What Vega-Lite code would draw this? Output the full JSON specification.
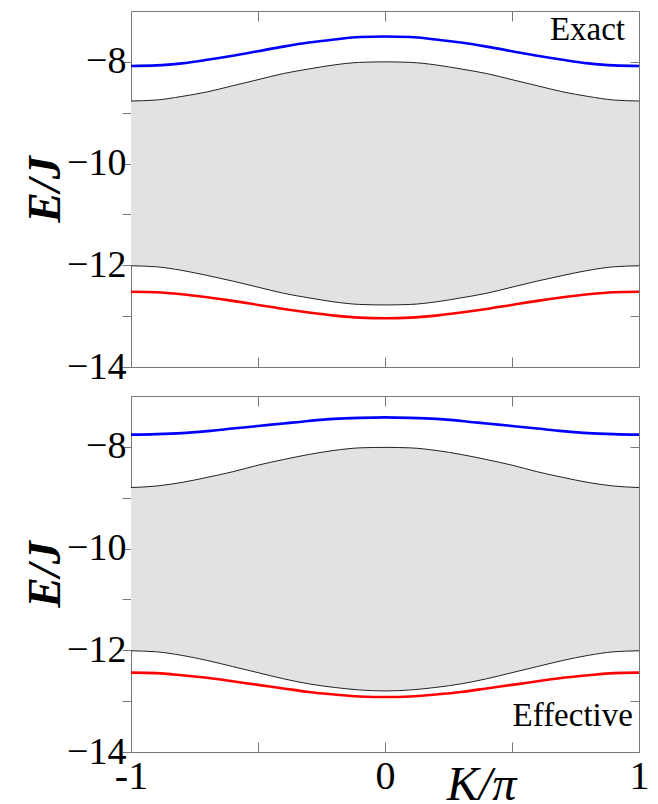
{
  "$schema": "https://vega.github.io/schema/vega-lite/v6.json",
  "autosize": "none",
  "padding": {"left": 131, "top": 11, "right": 527, "bottom": 793},
  "background": "white",
  "config": {
    "view": {"stroke": "#777", "strokeWidth": 1},
    "font": "Liberation Serif, Times New Roman, serif",
    "axis": {"grid": false, "tickColor": "#777", "domain": false, "labelFont": "Liberation Serif, Times New Roman, serif", "titleFont": "Liberation Serif, Times New Roman, serif", "labelColor": "black", "titleColor": "black"}
  },
  "datasets": {
    "exact": [
      {"K": -1.0, "up": -8.77, "lo": -12.01, "blue": -8.08, "red": -12.52},
      {"K": -0.9, "up": -8.75, "lo": -12.03, "blue": -8.07, "red": -12.53},
      {"K": -0.8, "up": -8.68, "lo": -12.10, "blue": -8.03, "red": -12.57},
      {"K": -0.7, "up": -8.59, "lo": -12.20, "blue": -7.96, "red": -12.63},
      {"K": -0.6, "up": -8.47, "lo": -12.31, "blue": -7.88, "red": -12.70},
      {"K": -0.5, "up": -8.35, "lo": -12.43, "blue": -7.79, "red": -12.78},
      {"K": -0.4, "up": -8.23, "lo": -12.55, "blue": -7.70, "red": -12.86},
      {"K": -0.3, "up": -8.14, "lo": -12.64, "blue": -7.62, "red": -12.93},
      {"K": -0.2, "up": -8.06, "lo": -12.72, "blue": -7.56, "red": -12.99},
      {"K": -0.1, "up": -8.01, "lo": -12.77, "blue": -7.51, "red": -13.03},
      {"K": 0.0, "up": -8.00, "lo": -12.78, "blue": -7.50, "red": -13.04},
      {"K": 0.1, "up": -8.01, "lo": -12.77, "blue": -7.51, "red": -13.03},
      {"K": 0.2, "up": -8.06, "lo": -12.72, "blue": -7.56, "red": -12.99},
      {"K": 0.3, "up": -8.14, "lo": -12.64, "blue": -7.62, "red": -12.93},
      {"K": 0.4, "up": -8.23, "lo": -12.55, "blue": -7.70, "red": -12.86},
      {"K": 0.5, "up": -8.35, "lo": -12.43, "blue": -7.79, "red": -12.78},
      {"K": 0.6, "up": -8.47, "lo": -12.31, "blue": -7.88, "red": -12.70},
      {"K": 0.7, "up": -8.59, "lo": -12.20, "blue": -7.96, "red": -12.63},
      {"K": 0.8, "up": -8.68, "lo": -12.10, "blue": -8.03, "red": -12.57},
      {"K": 0.9, "up": -8.75, "lo": -12.03, "blue": -8.07, "red": -12.53},
      {"K": 1.0, "up": -8.77, "lo": -12.01, "blue": -8.08, "red": -12.52}
    ],
    "effective": [
      {"K": -1.0, "up": -8.80, "lo": -12.01, "blue": -7.76, "red": -12.44},
      {"K": -0.9, "up": -8.77, "lo": -12.03, "blue": -7.75, "red": -12.45},
      {"K": -0.8, "up": -8.70, "lo": -12.10, "blue": -7.73, "red": -12.49},
      {"K": -0.7, "up": -8.60, "lo": -12.20, "blue": -7.69, "red": -12.54},
      {"K": -0.6, "up": -8.49, "lo": -12.32, "blue": -7.64, "red": -12.61},
      {"K": -0.5, "up": -8.36, "lo": -12.44, "blue": -7.59, "red": -12.68},
      {"K": -0.4, "up": -8.25, "lo": -12.56, "blue": -7.54, "red": -12.75},
      {"K": -0.3, "up": -8.15, "lo": -12.66, "blue": -7.49, "red": -12.82},
      {"K": -0.2, "up": -8.07, "lo": -12.73, "blue": -7.45, "red": -12.87},
      {"K": -0.1, "up": -8.02, "lo": -12.78, "blue": -7.43, "red": -12.91},
      {"K": 0.0, "up": -8.01, "lo": -12.80, "blue": -7.42, "red": -12.92},
      {"K": 0.1, "up": -8.02, "lo": -12.78, "blue": -7.43, "red": -12.91},
      {"K": 0.2, "up": -8.07, "lo": -12.73, "blue": -7.45, "red": -12.87},
      {"K": 0.3, "up": -8.15, "lo": -12.66, "blue": -7.49, "red": -12.82},
      {"K": 0.4, "up": -8.25, "lo": -12.56, "blue": -7.54, "red": -12.75},
      {"K": 0.5, "up": -8.36, "lo": -12.44, "blue": -7.59, "red": -12.68},
      {"K": 0.6, "up": -8.49, "lo": -12.32, "blue": -7.64, "red": -12.61},
      {"K": 0.7, "up": -8.60, "lo": -12.20, "blue": -7.69, "red": -12.54},
      {"K": 0.8, "up": -8.70, "lo": -12.10, "blue": -7.73, "red": -12.49},
      {"K": 0.9, "up": -8.77, "lo": -12.03, "blue": -7.75, "red": -12.45},
      {"K": 1.0, "up": -8.80, "lo": -12.01, "blue": -7.76, "red": -12.44}
    ]
  },
  "spacing": 8,
  "vconcat": [
    {
      "width": 508,
      "height": 356,
      "data": {"name": "exact"},
      "resolve": {"axis": {"x": "independent", "y": "independent"}},
      "layer": [
        {
          "mark": {"type": "area", "color": "#e2e2e2", "interpolate": "monotone"},
          "encoding": {
            "x": {"field": "K", "type": "quantitative", "scale": {"domain": [-1, 1], "nice": false},
                  "axis": {"orient": "bottom", "offset": -10, "tickSize": 10, "values": [-1, -0.5, 0, 0.5, 1], "labels": false, "title": null}},
            "y": {"field": "up", "type": "quantitative", "scale": {"domain": [-14, -7], "nice": false, "zero": false},
                  "axis": {"orient": "left", "tickSize": 9, "values": [-14, -13, -12, -11, -10, -9, -8],
                           "labelExpr": "datum.value % 2 === 0 ? '\u2212' + abs(datum.value) : ''",
                           "labelFontSize": 38, "labelPadding": -4, "labelBaseline": "middle",
                           "title": "E/J", "titleFontSize": 46, "titleFontStyle": "italic", "titleFontWeight": "bold",
                           "titleX": -72, "titleY": 178, "titleAlign": "center", "titleBaseline": "alphabetic", "titleAngle": -90}},
            "y2": {"field": "lo"}
          }
        },
        {
          "mark": {"type": "line", "color": "#222", "strokeWidth": 1, "interpolate": "monotone"},
          "encoding": {
            "x": {"field": "K", "type": "quantitative",
                  "axis": {"orient": "top", "offset": -10, "tickSize": 10, "values": [-0.5, 0, 0.5], "labels": false, "title": null}},
            "y": {"field": "up", "type": "quantitative",
                  "axis": {"orient": "right", "offset": -9, "tickSize": 9, "values": [-14, -13, -12, -11, -10, -9, -8], "labels": false, "title": null}}
          }
        },
        {
          "mark": {"type": "line", "color": "#222", "strokeWidth": 1, "interpolate": "monotone"},
          "encoding": {
            "x": {"field": "K", "type": "quantitative", "axis": null},
            "y": {"field": "lo", "type": "quantitative", "axis": null}
          }
        },
        {
          "mark": {"type": "line", "color": "#0000ff", "strokeWidth": 2.6, "interpolate": "monotone"},
          "encoding": {
            "x": {"field": "K", "type": "quantitative", "axis": null},
            "y": {"field": "blue", "type": "quantitative", "axis": null}
          }
        },
        {
          "mark": {"type": "line", "color": "#ff0000", "strokeWidth": 2.6, "interpolate": "monotone"},
          "encoding": {
            "x": {"field": "K", "type": "quantitative", "axis": null},
            "y": {"field": "red", "type": "quantitative", "axis": null}
          }
        },
        {
          "data": {"values": [{"label": "Exact", "K": 0.945, "E": -7.57}]},
          "mark": {"type": "text", "align": "right", "baseline": "alphabetic", "fontSize": 33, "color": "black"},
          "encoding": {
            "x": {"field": "K", "type": "quantitative", "axis": null},
            "y": {"field": "E", "type": "quantitative", "axis": null},
            "text": {"field": "label"}
          }
        }
      ]
    },
    {
      "width": 508,
      "height": 356,
      "data": {"name": "effective"},
      "resolve": {"axis": {"x": "independent", "y": "independent"}},
      "layer": [
        {
          "mark": {"type": "area", "color": "#e2e2e2", "interpolate": "monotone"},
          "encoding": {
            "x": {"field": "K", "type": "quantitative", "scale": {"domain": [-1, 1], "nice": false},
                  "axis": {"orient": "bottom", "offset": -10, "tickSize": 10, "values": [-1, -0.5, 0, 0.5, 1],
                           "labelExpr": "datum.value === -1 ? '-1' : datum.value === 1 ? '1' : datum.value === 0 ? '0' : ''",
                           "labelFontSize": 40, "labelPadding": 4, "labelBaseline": "top", "labelFlush": false,
                           "title": "K/\u03c0", "titleFontSize": 48, "titleFontStyle": "italic", "titleFontWeight": "normal",
                           "titleX": 350, "titleY": 57, "titleAlign": "center", "titleBaseline": "alphabetic"}},
            "y": {"field": "up", "type": "quantitative", "scale": {"domain": [-14, -7], "nice": false, "zero": false},
                  "axis": {"orient": "left", "tickSize": 9, "values": [-14, -13, -12, -11, -10, -9, -8],
                           "labelExpr": "datum.value % 2 === 0 ? '\u2212' + abs(datum.value) : ''",
                           "labelFontSize": 38, "labelPadding": -4, "labelBaseline": "middle",
                           "title": "E/J", "titleFontSize": 46, "titleFontStyle": "italic", "titleFontWeight": "bold",
                           "titleX": -72, "titleY": 178, "titleAlign": "center", "titleBaseline": "alphabetic", "titleAngle": -90}},
            "y2": {"field": "lo"}
          }
        },
        {
          "mark": {"type": "line", "color": "#222", "strokeWidth": 1, "interpolate": "monotone"},
          "encoding": {
            "x": {"field": "K", "type": "quantitative",
                  "axis": {"orient": "top", "offset": -10, "tickSize": 10, "values": [-0.5, 0, 0.5], "labels": false, "title": null}},
            "y": {"field": "up", "type": "quantitative",
                  "axis": {"orient": "right", "offset": -9, "tickSize": 9, "values": [-14, -13, -12, -11, -10, -9, -8], "labels": false, "title": null}}
          }
        },
        {
          "mark": {"type": "line", "color": "#222", "strokeWidth": 1, "interpolate": "monotone"},
          "encoding": {
            "x": {"field": "K", "type": "quantitative", "axis": null},
            "y": {"field": "lo", "type": "quantitative", "axis": null}
          }
        },
        {
          "mark": {"type": "line", "color": "#0000ff", "strokeWidth": 2.6, "interpolate": "monotone"},
          "encoding": {
            "x": {"field": "K", "type": "quantitative", "axis": null},
            "y": {"field": "blue", "type": "quantitative", "axis": null}
          }
        },
        {
          "mark": {"type": "line", "color": "#ff0000", "strokeWidth": 2.6, "interpolate": "monotone"},
          "encoding": {
            "x": {"field": "K", "type": "quantitative", "axis": null},
            "y": {"field": "red", "type": "quantitative", "axis": null}
          }
        },
        {
          "data": {"values": [{"label": "Effective", "K": 0.976, "E": -13.48}]},
          "mark": {"type": "text", "align": "right", "baseline": "alphabetic", "fontSize": 33, "color": "black"},
          "encoding": {
            "x": {"field": "K", "type": "quantitative", "axis": null},
            "y": {"field": "E", "type": "quantitative", "axis": null},
            "text": {"field": "label"}
          }
        }
      ]
    }
  ]
}
